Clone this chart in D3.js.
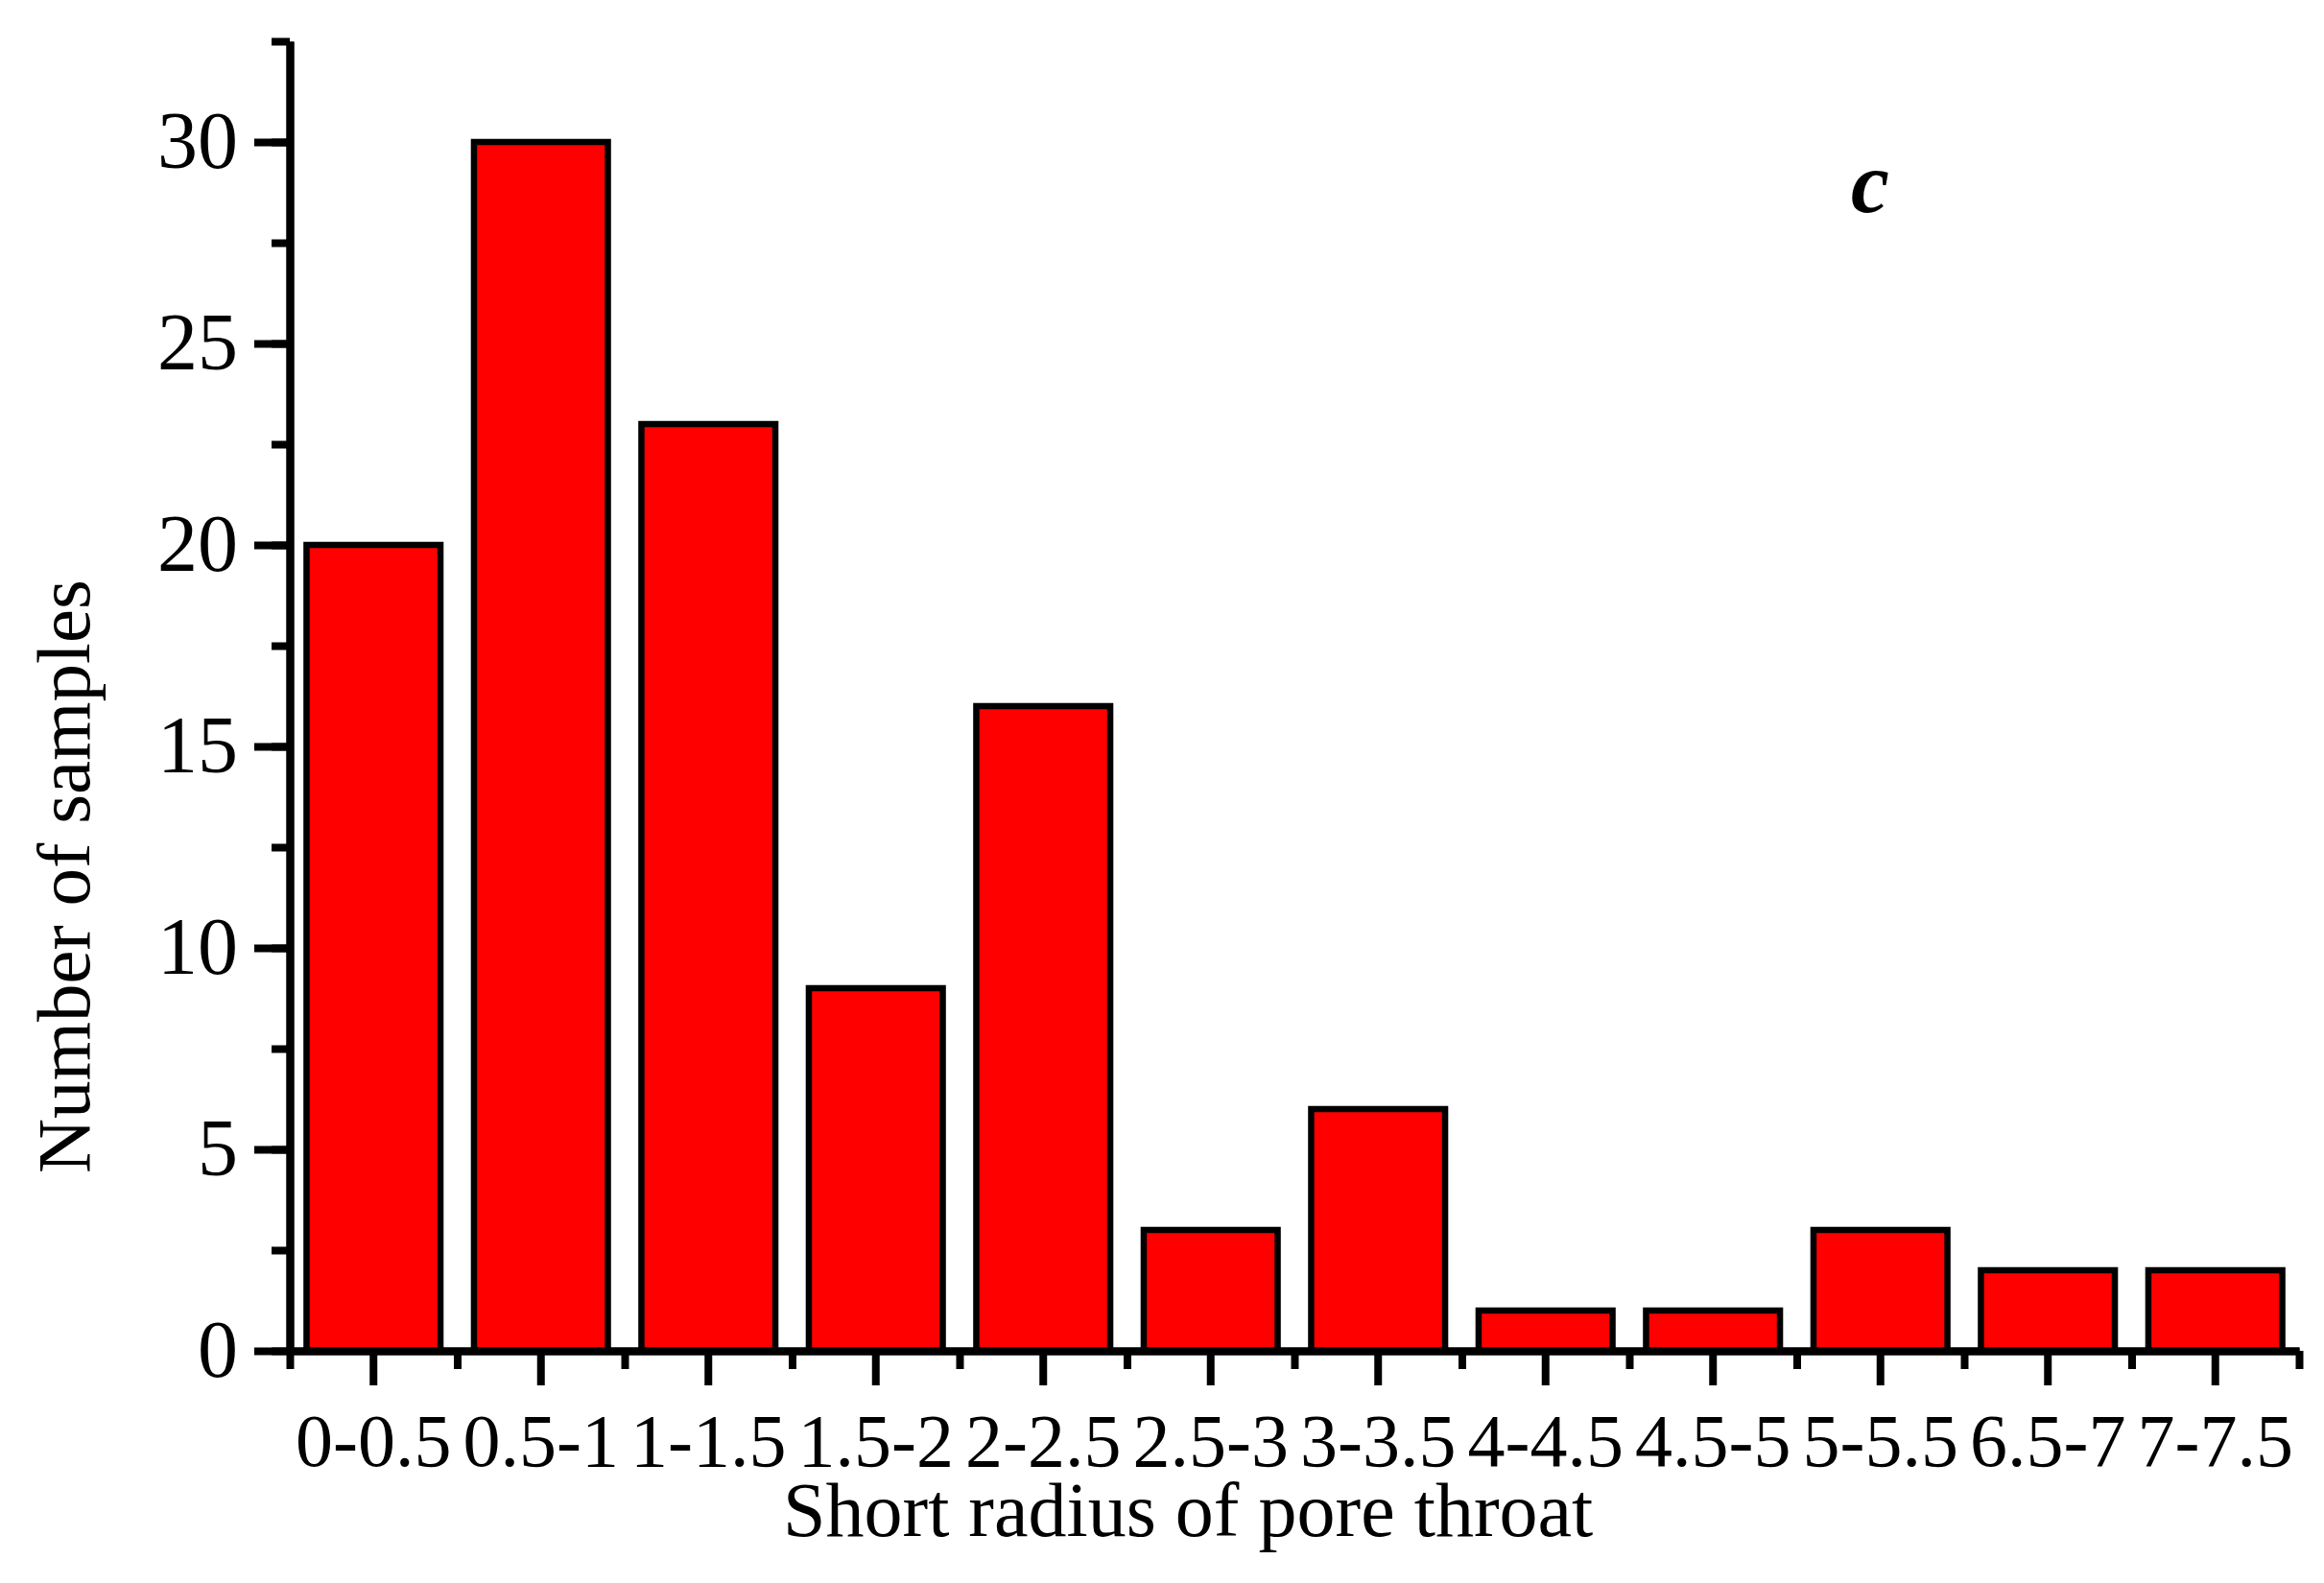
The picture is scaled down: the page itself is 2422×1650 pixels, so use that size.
<!DOCTYPE html>
<html>
<head>
<meta charset="utf-8">
<script src="https://cdn.jsdelivr.net/npm/d3@7"></script>
<style>
  html, body { margin: 0; padding: 0; background: #fff; }
  svg { display: block; }
  .axis text { font-family: "Liberation Serif", "Times New Roman", serif; fill: #000; }
</style>
</head>
<body>
<div id="chart"></div>
<script>
const radiusBins = ["0-0.5", "0.5-1", "1-1.5", "1.5-2", "2-2.5", "2.5-3", "3-3.5", "4-4.5", "4.5-5", "5-5.5", "6.5-7", "7-7.5"];
const sampleCounts = [20, 30, 23, 9, 16, 3, 6, 1, 1, 3, 2, 2];
const yMajorTicks = [0, 5, 10, 15, 20, 25, 30];
const yMax = 32.5;
const xTitle = "Short radius of pore throat";
const yTitle = "Number of samples";
const panelLabel = "c";

const width = 2422;
const height = 1650;
const margin = { top: 43, right: 26, bottom: 242, left: 302 };
const axisWidth = 8;

const svg = d3.select("#chart")
  .append("svg")
  .attr("width", width)
  .attr("height", height)
  .attr("viewBox", [0, 0, width, height]);

const x = d3.scaleBand()
  .domain(radiusBins)
  .range([margin.left, width - margin.right])
  .paddingInner(0.2)
  .paddingOuter(0.1);

// bin edges for the short ticks between bars
const xEdges = d3.scaleLinear()
  .domain([0, radiusBins.length])
  .range(x.range());

const y = d3.scaleLinear()
  .domain([0, yMax])
  .range([height - margin.bottom, margin.top]);

// bars
svg.append("g")
  .selectAll("rect")
  .data(sampleCounts)
  .join("rect")
  .attr("x", (d, i) => x(radiusBins[i]))
  .attr("y", (d) => y(d))
  .attr("width", x.bandwidth())
  .attr("height", (d) => y(0) - y(d))
  .attr("fill", "#ff0000")
  .attr("stroke", "#000")
  .attr("stroke-width", 6.5);

// y axis: minor ticks then major ticks with labels
svg.append("g")
  .attr("class", "axis")
  .attr("transform", `translate(${margin.left},0)`)
  .call(d3.axisLeft(y)
    .tickValues(d3.range(0, yMax + 0.01, 2.5))
    .tickSize(19)
    .tickSizeOuter(0)
    .tickFormat(""));

svg.append("g")
  .attr("class", "axis")
  .attr("transform", `translate(${margin.left},0)`)
  .call(d3.axisLeft(y)
    .tickValues(yMajorTicks)
    .tickSize(37)
    .tickSizeOuter(0)
    .tickPadding(17))
  .call((g) => g.selectAll("text").style("font-size", "84px"));

// x axis: minor ticks at bin edges, major ticks at bar centres
svg.append("g")
  .attr("class", "axis")
  .attr("transform", `translate(0,${y(0)})`)
  .call(d3.axisBottom(xEdges)
    .tickValues(d3.range(0, radiusBins.length + 1))
    .tickSize(19)
    .tickSizeOuter(0)
    .tickFormat(""));

svg.append("g")
  .attr("class", "axis")
  .attr("transform", `translate(0,${y(0)})`)
  .call(d3.axisBottom(x)
    .tickSize(36)
    .tickSizeOuter(0)
    .tickPadding(29))
  .call((g) => g.selectAll("text").style("font-size", "78px"));

svg.selectAll(".axis .domain, .axis .tick line")
  .attr("stroke", "#000")
  .attr("stroke-width", axisWidth);

// axis titles
svg.append("text")
  .attr("x", 816)
  .attr("y", 1601)
  .attr("font-family", "Liberation Serif, Times New Roman, serif")
  .attr("font-size", 80)
  .attr("fill", "#000")
  .text(xTitle);

svg.append("text")
  .attr("transform", "translate(93,1223) rotate(-90)")
  .attr("font-family", "Liberation Serif, Times New Roman, serif")
  .attr("font-size", 79)
  .attr("fill", "#000")
  .text(yTitle);

// panel letter
svg.append("text")
  .attr("x", 1929)
  .attr("y", 221)
  .attr("font-family", "Liberation Serif, Times New Roman, serif")
  .attr("font-size", 90)
  .attr("font-weight", "bold")
  .attr("font-style", "italic")
  .attr("fill", "#000")
  .text(panelLabel);
</script>
</body>
</html>
